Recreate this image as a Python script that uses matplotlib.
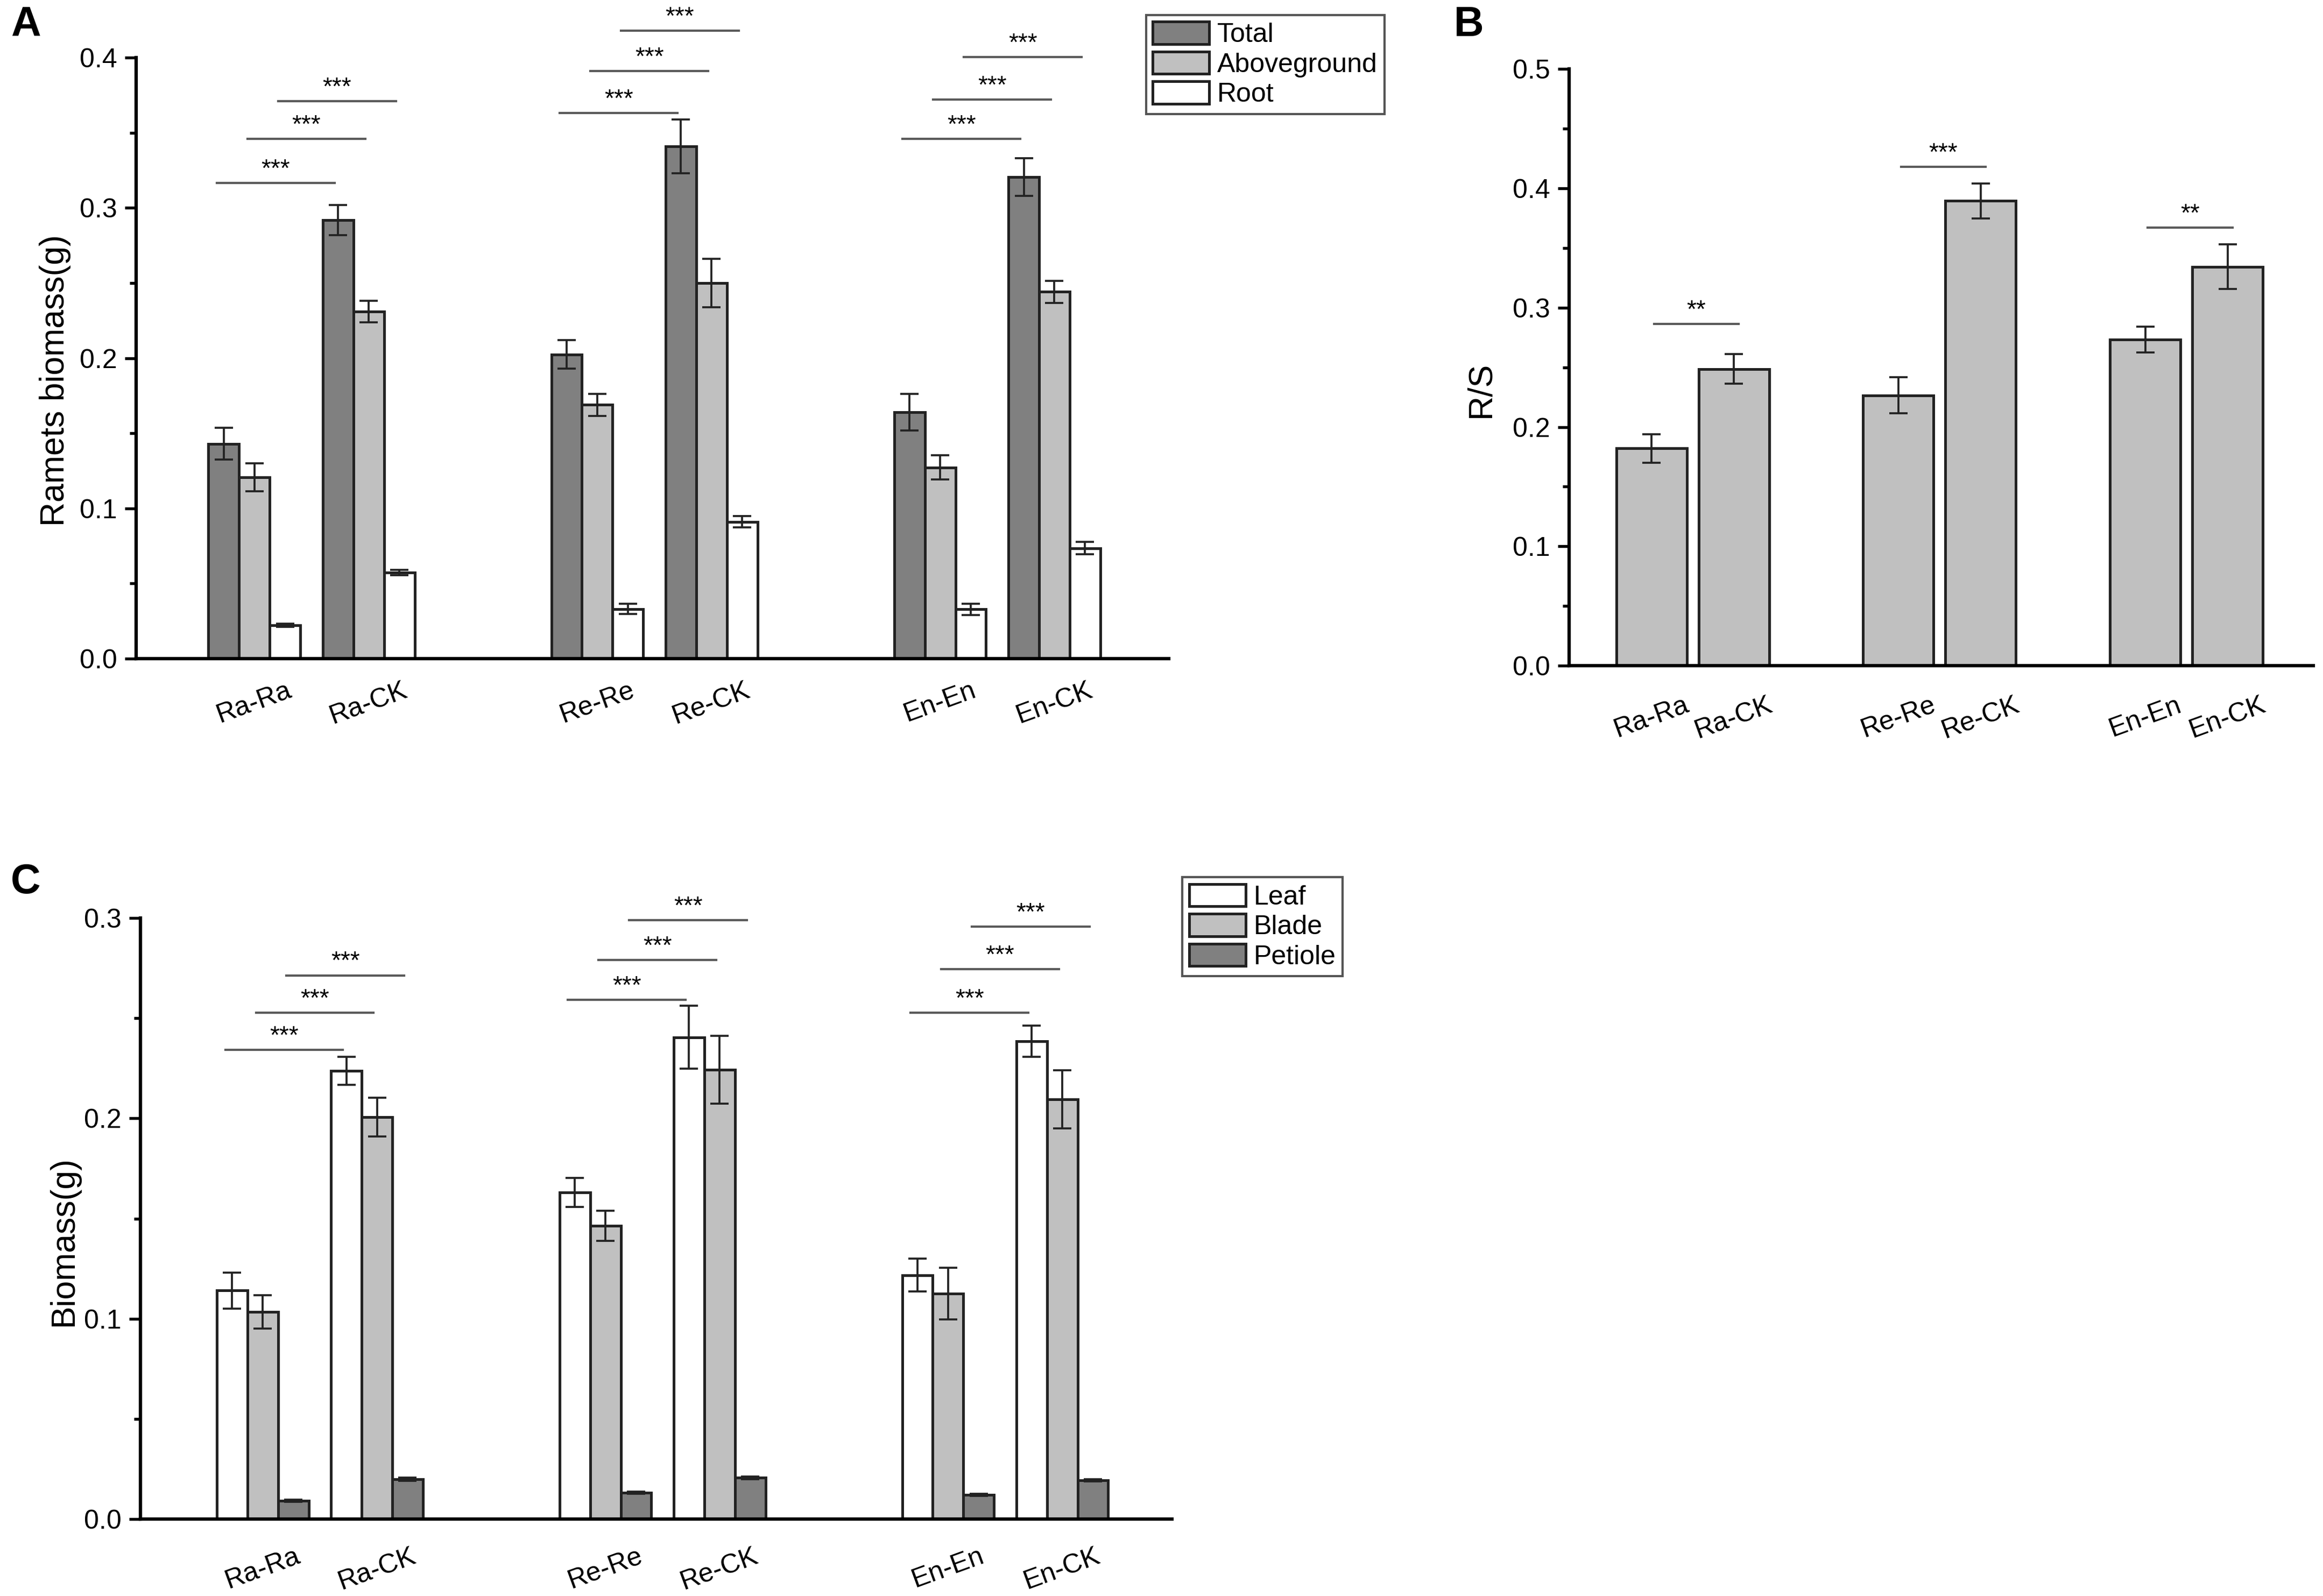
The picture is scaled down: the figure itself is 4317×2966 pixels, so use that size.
import numpy as np
import matplotlib.pyplot as plt
from matplotlib.ticker import MultipleLocator, FormatStrFormatter

plt.rcParams['font.family'] = ['Liberation Sans', 'DejaVu Sans']

groups = ['Ra-Ra', 'Ra-CK', 'Re-Re', 'Re-CK', 'En-En', 'En-CK']
pos = np.array([1, 2, 4, 5, 7, 8])

# panel A: ramets biomass
total = [0.143, 0.292, 0.2025, 0.341, 0.164, 0.3205]
total_err = [0.0106, 0.010, 0.0096, 0.018, 0.0123, 0.0126]
above = [0.1206, 0.231, 0.169, 0.250, 0.1273, 0.2442]
above_err = [0.0093, 0.0073, 0.0073, 0.016, 0.008, 0.0073]
root = [0.0222, 0.0573, 0.0331, 0.0911, 0.0328, 0.0736]
root_err = [0.001, 0.0017, 0.0034, 0.0037, 0.0037, 0.004]
sig_a = [[0.3165, 0.346, 0.371], [0.3632, 0.391, 0.4179], [0.346, 0.372, 0.4003]]

# panel B: root/shoot ratio
rs = [0.182, 0.2487, 0.2266, 0.3894, 0.2734, 0.3343]
rs_err = [0.012, 0.0125, 0.015, 0.0146, 0.0108, 0.0188]
sig_b = [0.2863, 0.4178, 0.3669]
stars_b = ['**', '***', '**']

# panel C: leaf biomass
leaf = [0.1141, 0.2238, 0.1631, 0.2405, 0.1218, 0.2386]
leaf_err = [0.009, 0.007, 0.0073, 0.0156, 0.0083, 0.0078]
blade = [0.1034, 0.2007, 0.1464, 0.2243, 0.1126, 0.2095]
blade_err = [0.0083, 0.0097, 0.0075, 0.017, 0.0129, 0.0145]
petiole = [0.0092, 0.0199, 0.0131, 0.0206, 0.0121, 0.0194]
petiole_err = [0.0005, 0.0008, 0.0005, 0.0006, 0.0005, 0.0005]
sig_c = [[0.2342, 0.2527, 0.2714], [0.2592, 0.2791, 0.299], [0.2527, 0.2745, 0.2956]]

DARK = '#808080'
LIGHT = '#c0c0c0'
EDGE = '#222222'
err_kw = dict(ecolor=EDGE, elinewidth=0.9, capsize=4, capthick=0.9)

W, H = 4317, 2966
fig = plt.figure(figsize=(W / 300, H / 300), dpi=300)


def style_axis(ax, ymax, ylabel, label_x, xlim, tickpad):
    ax.set_xlim(*xlim)
    ax.set_ylim(0, ymax)
    ax.spines[['top', 'right']].set_visible(False)
    for s in ['left', 'bottom']:
        ax.spines[s].set_linewidth(1.5)
    ax.yaxis.set_major_locator(MultipleLocator(0.1))
    ax.yaxis.set_minor_locator(MultipleLocator(0.05))
    ax.yaxis.set_major_formatter(FormatStrFormatter('%.1f'))
    ax.tick_params(axis='y', which='major', length=5, width=1.3, pad=3.5, labelsize=12)
    ax.tick_params(axis='y', which='minor', length=3, width=1.3)
    ax.set_xticks(pos)
    ax.set_xticklabels(groups, rotation=20, ha='center', va='top')
    ax.tick_params(axis='x', length=0, pad=tickpad, labelsize=12)
    ax.set_ylabel(ylabel, fontsize=15)
    ax.yaxis.set_label_coords(label_x, 0.463)


def bracket(ax, x0, x1, y, text):
    ax.plot([x0, x1], [y, y], color='#5a5a5a', lw=1.0, clip_on=False)
    ax.annotate(text, ((x0 + x1) / 2, y), xytext=(0, 3), textcoords='offset points',
                ha='center', va='baseline', fontsize=11, annotation_clip=False)


def legend(ax, anchor):
    lg = ax.legend(loc='upper left', bbox_to_anchor=anchor, borderaxespad=0, fontsize=12,
                   fancybox=False, edgecolor='#555555', framealpha=1, handlelength=2.1,
                   handleheight=0.9, handletextpad=0.3, labelspacing=0.15, borderpad=0.25)
    lg.get_frame().set_linewidth(1.0)


w = 0.268
offs = [-w, 0, w]

# ---- A ----
axA = fig.add_axes([0.0586, 0.5873, 0.4445, 0.3766])
for vals, errs, col, lab, off in zip([total, above, root], [total_err, above_err, root_err],
                                     [DARK, LIGHT, 'white'], ['Total', 'Aboveground', 'Root'], offs):
    axA.bar(pos + off, vals, w, yerr=errs, color=col, edgecolor=EDGE, linewidth=1.2,
            label=lab, error_kw=err_kw)
for k, g in enumerate([0, 2, 4]):
    for i in range(3):
        bracket(axA, pos[g] + offs[i] - 0.06, pos[g + 1] + offs[i] - 0.03, sig_a[k][i], '***')
style_axis(axA, 0.4, 'Ramets biomass(g)', -0.063, (-0.035, 9.0), 8.5)
legend(axA, (0.978, 1.071))

# ---- B ----
axB = fig.add_axes([0.6755, 0.5829, 0.3203, 0.3739])
axB.bar(pos, rs, 0.856, yerr=rs_err, color=LIGHT, edgecolor=EDGE, linewidth=1.2, error_kw=err_kw)
for k, g in enumerate([0, 2, 4]):
    bracket(axB, pos[g] + 0.03, pos[g + 1] + 0.06, sig_b[k], stars_b[k])
style_axis(axB, 0.5, 'R/S', -0.0976, (0, 9.04), 12)

# ---- C ----
axC = fig.add_axes([0.0605, 0.0482, 0.4440, 0.3766])
for vals, errs, col, lab, off in zip([leaf, blade, petiole], [leaf_err, blade_err, petiole_err],
                                     ['white', LIGHT, DARK], ['Leaf', 'Blade', 'Petiole'], offs):
    axC.bar(pos + off, vals, w, yerr=errs, color=col, edgecolor=EDGE, linewidth=1.2,
            label=lab, error_kw=err_kw)
for k, g in enumerate([0, 2, 4]):
    for i in range(3):
        bracket(axC, pos[g] + offs[i] - 0.06, pos[g + 1] + offs[i] - 0.03, sig_c[k][i], '***')
style_axis(axC, 0.3, 'Biomass(g)', -0.059, (-0.07, 8.96), 11)
legend(axC, (1.010, 1.068))

# panel letters
for txt, x, y in [('A', 20, 10), ('B', 2702, 10), ('C', 20, 1603)]:
    fig.text(x / W, 1 - y / H, txt, fontsize=18.5, fontweight='bold', ha='left', va='top')

fig.savefig('out.png', dpi=300)
